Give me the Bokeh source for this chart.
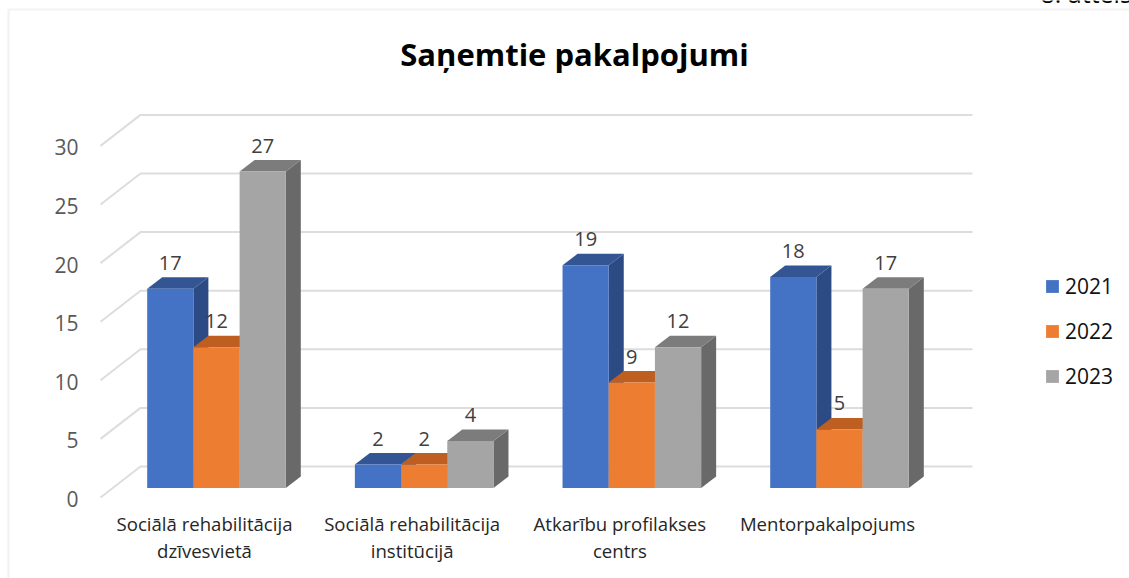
from bokeh.plotting import figure
from bokeh.embed import file_html
from bokeh.resources import INLINE
from bokeh.core.properties import value
from bokeh.models import (Range1d, LinearAxis, FixedTicker, Legend, LegendItem, Label,
                          BoxAnnotation, ColumnDataSource)

# ---- data ----
categories = ["Sociālā rehabilitācija\ndzīvesvietā", "Sociālā rehabilitācija\ninstitūcijā",
              "Atkarību profilakses\ncentrs", "Mentorpakalpojums"]
years = ["2021", "2022", "2023"]
values_2021 = [17, 2, 19, 18]
values_2022 = [12, 2, 9, 5]
values_2023 = [27, 4, 12, 17]
y_ticks = [0, 5, 10, 15, 20, 25, 30]
title_text = "Saņemtie pakalpojumi"
corner_text = "8. attēls"

# ---- style ----
W, H = 1129, 578
PX_X = 207.67          # px per category
PX_Y = 11.72           # px per value unit
X0 = 216.0             # px of first group centre
Y0 = 498.5             # px of the value-axis label zero
FONT = "Open Sans"
front = ["#4472C4", "#ED7D31", "#A5A5A5"]
top = ["#335593", "#BE5E20", "#7C7C7C"]
side = ["#2C4A83", "#A5521C", "#696969"]
GRID = "#DDDDDD"
LIFT = 1.5             # px: labels sit slightly below the wall's front ends

def dx(px): return px / PX_X
def dy(px): return px / PX_Y

p = figure(width=W, height=H, output_backend="svg", toolbar_location=None,
           x_range=Range1d(-X0 / PX_X, (W - X0) / PX_X),
           y_range=Range1d(-(H - Y0) / PX_Y, Y0 / PX_Y),
           x_axis_type=None, y_axis_type=None,
           min_border=0, min_border_left=0, min_border_right=0, min_border_top=0, min_border_bottom=0,
           outline_line_color=None, background_fill_color="white", border_fill_color="white")
p.styles = {"position": "absolute", "left": "0px", "top": "0px"}
p.grid.visible = False

# chart border
p.add_layout(BoxAnnotation(left=8, right=W + 20, top=H - 9, bottom=-20,
                           left_units="screen", right_units="screen", top_units="screen", bottom_units="screen",
                           fill_alpha=0, line_color="#D4D4D4", line_width=2.2, level="overlay"))

# walls' gridlines
wall_left, wall_back, wall_end = 100, 140, 972
for v in y_ticks:
    p.line([dx(wall_left - X0), dx(wall_back - X0), dx(wall_end - X0)],
           [v + dy(LIFT), v + dy(LIFT + 31), v + dy(LIFT + 31)], line_color=GRID, line_width=2)

# 3D bars
BAR = 46.2
DEPTH_X, DEPTH_Y = 15, 11.5
BASE = dy(LIFT + 9.5)
series = [values_2021, values_2022, values_2023]
legend_items = []
for g in range(len(categories)):
    for s, vals in enumerate(series):
        v = vals[g]
        l = g + dx((s - 1.5) * BAR)
        r = l + dx(BAR)
        b = BASE
        t = BASE + v
        ddx, ddy = dx(DEPTH_X), dy(DEPTH_Y)
        p.patch([r, r + ddx, r + ddx, r], [b, b + ddy, t + ddy, t], fill_color=side[s], line_color=None)
        p.patch([l, l + ddx, r + ddx, r], [t, t + ddy, t + ddy, t], fill_color=top[s], line_color=None)
        rend = p.quad(left=[l], right=[r], bottom=[b], top=[t], fill_color=front[s], line_color=None)
        if g == 0:
            legend_items.append(LegendItem(label=years[s], renderers=[rend]))

# data labels
for s, vals in enumerate(series):
    xs = [g + dx((s - 1) * BAR) for g in range(len(categories))]
    ys = [BASE + v + dy(26) for v in vals]
    p.text(xs, ys, text=[str(v) for v in vals], text_align="center", text_baseline="middle",
           text_font=value(FONT), text_font_size="20px", text_color="#404040")

# axes
ya = LinearAxis(ticker=FixedTicker(ticks=y_ticks), fixed_location=dx(100 - X0),
                axis_line_color=None, major_tick_line_color=None, minor_tick_line_color=None,
                major_tick_out=0, major_tick_in=0,
                major_label_standoff=22, major_label_text_font=FONT,
                major_label_text_font_size="21px", major_label_text_color="#595959")
p.add_layout(ya, "left")

tick_pos = [g + dx(-12) for g in range(len(categories))]
xa = LinearAxis(ticker=FixedTicker(ticks=tick_pos), fixed_location=-dy(11.5),
                major_label_overrides={t: c for t, c in zip(tick_pos, categories)},
                axis_line_color=None, major_tick_line_color=None, minor_tick_line_color=None,
                major_tick_out=0, major_tick_in=0,
                major_label_standoff=0, major_label_text_font=FONT,
                major_label_text_line_height=1.08,
                major_label_text_font_size="18.6px", major_label_text_color="#262626")
p.add_layout(xa, "below")

# legend
legend = Legend(items=legend_items, location=(1044, 188), orientation="vertical",
                background_fill_alpha=0, border_line_color=None, padding=0, margin=0,
                glyph_width=16, glyph_height=16, label_text_font=FONT, label_text_font_size="21px",
                label_text_color="#111111", spacing=17, label_standoff=5)
p.add_layout(legend)

# title and cut-off corner text
p.add_layout(Label(x=574, y=H - 53, x_units="screen", y_units="screen", text=title_text,
                   text_font=FONT, text_font_style="bold", text_font_size="31px", text_color="#000000",
                   text_align="center", text_baseline="middle"))
p.add_layout(Label(x=1040, y=H + 8, x_units="screen", y_units="screen", text=corner_text,
                   text_font=FONT, text_font_size="25px", text_color="#000000",
                   text_align="left", text_baseline="alphabetic"))

open("out.html", "w").write(file_html(p, INLINE))
